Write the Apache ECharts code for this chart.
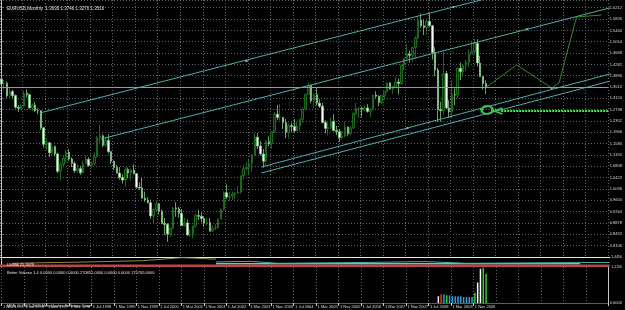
<!DOCTYPE html>
<html><head><meta charset="utf-8">
<script src="https://cdn.jsdelivr.net/npm/echarts@6/dist/echarts.min.js"></script>
<style>html,body{margin:0;padding:0;background:#000}#c{width:625px;height:310px}</style>
</head><body><div id="c"></div>
<script>
// ---- data (monthly EURUSD, Nov 1995 .. Mar 2010) ----
const MON = ['Jan','Feb','Mar','Apr','May','Jun','Jul','Aug','Sep','Oct','Nov','Dec'];
const slotCount = 216; // visible monthly slots incl. empty future area
const months = [];
for (let i = 0; i < slotCount; i++) { const k = 10 + i; months.push('1 ' + MON[k % 12] + ' ' + (1995 + Math.floor(k / 12))); }
const lastLabelIndex = 168; // "1 Nov 2009" is the last date label

const opens = [1.3780,1.3620,1.3640,1.3210,1.3360,1.3220,1.2820,1.2790,1.2860,1.3300,1.3250,1.2800,1.2900,1.2710,
1.2700,1.2120,1.1560,1.1610,1.1270,1.1480,1.1230,1.0640,1.0870,1.1090,1.1290,1.1060,
1.0910,1.0660,1.0730,1.0590,1.0910,1.1050,1.0840,1.0900,1.1140,1.1780,1.1850,1.1530,
1.1690,1.1310,1.0980,1.0770,1.0580,1.0430,1.0340,1.0700,1.0580,1.0680,1.0560,1.0100,
1.0070,0.9720,0.9660,0.9570,0.9120,0.9330,0.9530,0.9280,0.8870,0.8830,0.8500,0.8700,
0.9390,0.9360,0.9210,0.8790,0.8880,0.8470,0.8490,0.8770,0.9130,0.9110,0.9030,0.8880,
0.8900,0.8600,0.8700,0.8720,0.9010,0.9330,0.9910,0.9760,0.9800,0.9870,0.9890,0.9930,
1.0490,1.0730,1.0780,1.0900,1.1180,1.1800,1.1500,1.1230,1.0980,1.1650,1.1580,1.1990,
1.2590,1.2470,1.2480,1.2300,1.1960,1.2200,1.2170,1.2020,1.2180,1.2410,1.2760,1.3260,
1.3560,1.3040,1.3250,1.2960,1.2860,1.2300,1.2100,1.2130,1.2340,1.2030,1.1990,1.1790,
1.1840,1.2150,1.1920,1.2120,1.2620,1.2790,1.2790,1.2760,1.2800,1.2680,1.2750,1.3240,
1.3200,1.2990,1.3230,1.3350,1.3650,1.3450,1.3540,1.3680,1.3630,1.4260,1.4490,1.4630,
1.4590,1.4860,1.5180,1.5790,1.5600,1.5540,1.5750,1.5600,1.4680,1.4090,1.2740,1.2700,
1.3970,1.2800,1.2660,1.3250,1.3240,1.4150,1.4030,1.4250,1.4340,1.4640,1.4720,1.5000,
1.4330,1.3870,1.3630];
const highs = [1.3950,1.3750,1.3700,1.3480,1.3420,1.3260,1.2900,1.2930,1.3380,1.3430,1.3280,1.2960,1.3010,1.2790,
1.2720,1.2150,1.1750,1.1640,1.1580,1.1520,1.1270,1.0950,1.1150,1.1380,1.1400,1.1120,
1.0980,1.0890,1.0820,1.0990,1.1180,1.1120,1.0990,1.1280,1.1850,1.2220,1.1890,1.1800,
1.1900,1.1330,1.1010,1.0860,1.0790,1.0540,1.0790,1.0770,1.0730,1.0880,1.0580,1.0260,
1.0410,0.9950,0.9760,0.9680,0.9370,0.9610,0.9560,0.9340,0.9050,0.8880,0.8720,0.9430,
0.9590,0.9430,0.9360,0.9060,0.9000,0.8660,0.8800,0.9200,0.9330,0.9240,0.9100,0.9050,
0.9050,0.8790,0.8840,0.9040,0.9390,0.9960,1.0190,0.9940,0.9950,0.9930,1.0140,1.0500,
1.0870,1.0940,1.1080,1.1230,1.1930,1.1940,1.1670,1.1400,1.1700,1.1830,1.2000,1.2650,
1.2900,1.2930,1.2490,1.2420,1.2280,1.2300,1.2420,1.2330,1.2440,1.2820,1.3300,1.3670,
1.3580,1.3290,1.3480,1.3100,1.2970,1.2380,1.2300,1.2480,1.2590,1.2190,1.2080,1.2040,
1.2320,1.2160,1.2190,1.2640,1.2980,1.2820,1.2850,1.2910,1.2930,1.2790,1.3250,1.3370,
1.3230,1.3240,1.3380,1.3680,1.3680,1.3540,1.3850,1.3800,1.4280,1.4500,1.4970,1.4750,
1.4880,1.5240,1.5910,1.6020,1.5820,1.5820,1.6040,1.5630,1.4870,1.4160,1.3000,1.4720,
1.4060,1.3060,1.3740,1.3460,1.4180,1.4340,1.4300,1.4440,1.4800,1.5060,1.5140,1.5140,
1.4580,1.3880,1.3740];
const lows = [1.3540,1.3420,1.3150,1.3100,1.3120,1.2780,1.2660,1.2740,1.2830,1.3160,1.2780,1.2700,1.2660,1.2580,
1.2050,1.1450,1.1380,1.1120,1.1200,1.1140,1.0580,1.0320,1.0800,1.0950,1.1000,1.0780,
1.0580,1.0600,1.0520,1.0560,1.0880,1.0790,1.0770,1.0850,1.1100,1.1620,1.1460,1.1480,
1.1250,1.0880,1.0680,1.0560,1.0360,1.0220,1.0120,1.0410,1.0320,1.0530,1.0050,1.0010,
0.9710,0.9600,0.9540,0.9020,0.8850,0.9300,0.9170,0.8850,0.8460,0.8230,0.8400,0.8670,
0.9090,0.9060,0.8770,0.8760,0.8450,0.8400,0.8350,0.8710,0.8980,0.8900,0.8750,0.8790,
0.8590,0.8560,0.8630,0.8700,0.8990,0.9290,0.9690,0.9620,0.9660,0.9690,0.9870,0.9880,
1.0350,1.0680,1.0500,1.0620,1.1160,1.1400,1.1180,1.0760,1.0860,1.1490,1.1410,1.1950,
1.2380,1.2370,1.2080,1.1760,1.1760,1.1990,1.1960,1.2000,1.2000,1.2300,1.2740,1.3240,
1.2950,1.2790,1.2880,1.2800,1.2270,1.1930,1.1860,1.2070,1.2010,1.1870,1.1640,1.1710,
1.1800,1.1830,1.1880,1.2070,1.2550,1.2450,1.2480,1.2700,1.2640,1.2480,1.2740,1.3130,
1.2860,1.2930,1.3080,1.3330,1.3410,1.3270,1.3480,1.3260,1.3590,1.4070,1.4420,1.4340,
1.4370,1.4500,1.5150,1.5530,1.5280,1.5300,1.5560,1.4450,1.3880,1.2330,1.2330,1.2560,
1.2760,1.2460,1.2460,1.2890,1.3140,1.3750,1.3860,1.4050,1.4190,1.4630,1.4630,1.4220,
1.3860,1.3430,1.3270];
const closes = [1.3620,1.3640,1.3210,1.3360,1.3220,1.2820,1.2790,1.2860,1.3300,1.3250,1.2800,1.2900,1.2710,1.2700,
1.2120,1.1560,1.1610,1.1270,1.1480,1.1230,1.0640,1.0870,1.1090,1.1290,1.1060,1.0910,
1.0660,1.0730,1.0590,1.0910,1.1050,1.0840,1.0900,1.1140,1.1780,1.1850,1.1530,1.1690,
1.1310,1.0980,1.0770,1.0580,1.0430,1.0340,1.0700,1.0580,1.0680,1.0560,1.0100,1.0070,
0.9720,0.9660,0.9570,0.9120,0.9330,0.9530,0.9280,0.8870,0.8830,0.8500,0.8700,0.9390,
0.9360,0.9210,0.8790,0.8880,0.8470,0.8490,0.8770,0.9130,0.9110,0.9030,0.8880,0.8900,
0.8600,0.8700,0.8720,0.9010,0.9330,0.9910,0.9760,0.9800,0.9870,0.9890,0.9930,1.0490,
1.0730,1.0780,1.0900,1.1180,1.1800,1.1500,1.1230,1.0980,1.1650,1.1580,1.1990,1.2590,
1.2470,1.2480,1.2300,1.1960,1.2200,1.2170,1.2020,1.2180,1.2410,1.2760,1.3260,1.3560,
1.3040,1.3250,1.2960,1.2860,1.2300,1.2100,1.2130,1.2340,1.2030,1.1990,1.1790,1.1840,
1.2150,1.1920,1.2120,1.2620,1.2790,1.2790,1.2760,1.2800,1.2680,1.2750,1.3240,1.3200,
1.2990,1.3230,1.3350,1.3650,1.3450,1.3540,1.3680,1.3630,1.4260,1.4490,1.4630,1.4590,
1.4860,1.5180,1.5790,1.5600,1.5540,1.5750,1.5600,1.4680,1.4090,1.2740,1.2700,1.3970,
1.2800,1.2660,1.3250,1.3240,1.4150,1.4030,1.4250,1.4340,1.4640,1.4720,1.5000,1.4330,
1.3870,1.3630,1.3510];

// Better Volume histogram (Oct 2008 .. Mar 2010)
const volStart = 155;
const volValues = [55000,70000,70000,62000,62000,55000,55000,55000,55000,48000,48000,48000,48000,80000,165000,275000,285000,235000];
const volColors = ['#e8e8e8','#ff3030','#3a9ad9','#30d030','#3a9ad9','#3a9ad9','#3a9ad9','#3a9ad9','#3a9ad9','#3a9ad9','#3a9ad9','#3a9ad9','#3a9ad9','#30d030','#ffffff','#ffffff','#30d030','#30d030'];

// small indicator window lines [monthIndex, value]
const indOlive = [[4, 1.300], [12, 1.310], [30, 1.330], [50, 1.360], [64, 1.430], [68, 1.420], [76, 1.395]];
const indCyan = [[76, 1.330], [88, 1.345], [98, 1.300], [106, 1.305], [130, 1.320], [150, 1.340], [165, 1.300], [200, 1.315], [215.5, 1.320]];
const indWhite = [[76, 1.290], [205, 1.290]];
const indBandTop = 1.275;

// trend lines: anchor pairs [monthIndex, price]
const trendA = [[13.6, 1.2626], [160.5, 1.6237]];
const trendB = [[35.4, 1.1740], [186.6, 1.5478]];
const trendC1 = [[92.3, 1.0786], [144.2, 1.2115]];
const trendC2 = [[92.3, 1.0582], [204.2, 1.3410]];
const trendDots = [[87.0, 1.4398], [160.5, 1.6237], [186.6, 1.5478], [144.2, 1.2115], [195.4, 1.3478]];
// hand-drawn forecast path
const forecastPath = [[171.7, 1.3478], [183.0, 1.4262], [195.4, 1.3478], [198.0, 1.3650], [204.2, 1.5897], [213.1, 1.5965]];
const circleMark = [[172.5, 1.2728]];
const arrowMark = [[176.5, 1.2694]];
const dottedLevel = [[177.5, 1.2694], [215.5, 1.2694]];

const priceMin = 0.7720, priceStep = 0.0386, priceMax = 1.6476;
const title = 'EURUSD,Monthly  1.3630 1.3740 1.3270 1.3510';
const volTitle = 'Better Volume 1.4 0.0000 0.0000 0.0000 270852.0000 0.0000 0.0000 175765.0000';
const indTitle = 'LWMA 25.3478';
const copyright = 'MFA, \u00a9 2001-2009 MetaQuotes Software Corp.';

// ---- chart ----
const GREEN = '#1f7f22';
const GRIDC = '#5a626c';
function extend(a, xEnd) {
  const [p, q] = a; const s = (q[1] - p[1]) / (q[0] - p[0]);
  return [p, [xEnd, p[1] + s * (xEnd - p[0])]];
}
const candleData = opens.map((o, i) => [o, closes[i], lows[i], highs[i]]);
const volData = months.map((m, i) => {
  const k = i - volStart;
  if (k >= 0 && k < volValues.length) return { value: volValues[k], itemStyle: { color: volColors[k] } };
  return '-';
});
const font = 'Liberation Sans';
const every8 = (idx) => idx % 8 === 0;
const dateLabelShown = (idx) => idx % 8 === 0 && idx <= lastLabelIndex;
const chart = echarts.init(document.getElementById('c'), null, { renderer: 'canvas' });
const lastClose = closes[closes.length - 1];
const small = (t, left, top, size) => ({ text: t, left, top, textStyle: { color: '#e0e0e0', fontSize: size, fontWeight: 'normal', fontFamily: font } });
chart.setOption({
  backgroundColor: '#000',
  animation: false,
  textStyle: { fontFamily: font },
  grid: [
    { left: 0, right: 13, top: 0, height: 257 },
    { left: 0, right: 13, top: 257, height: 10 },
    { left: 0, right: 13, top: 267, height: 36 }
  ],
  title: [
    small(title, 2, 1, 4.5),
    small(indTitle, 2, 258, 4),
    small(volTitle, 2, 266, 4),
    small(copyright, 2, 298.5, 4)
  ],
  xAxis: [
    { type: 'category', gridIndex: 0, data: months, boundaryGap: true,
      axisLine: { show: false }, axisTick: { show: false }, axisLabel: { show: false },
      splitLine: { show: true, interval: every8, lineStyle: { color: GRIDC, type: [1, 2], width: 1 } } },
    { type: 'value', gridIndex: 0, min: -0.5, max: slotCount - 0.5, show: false },
    { type: 'value', gridIndex: 1, min: -0.5, max: slotCount - 0.5, position: 'top',
      axisLine: { show: true, onZero: false, lineStyle: { color: '#e8e8e8', width: 1 } },
      axisTick: { show: false }, axisLabel: { show: false }, splitLine: { show: false } },
    { type: 'category', gridIndex: 2, data: months, boundaryGap: true,
      axisLine: { show: true, lineStyle: { color: '#a04040', width: 1 } },
      axisTick: { show: true, interval: dateLabelShown, length: 3, lineStyle: { color: '#cccccc' } },
      axisLabel: { show: true, interval: dateLabelShown, color: '#dddddd', fontSize: 4, align: 'left', margin: 2, fontFamily: font },
      splitLine: { show: true, interval: every8, lineStyle: { color: GRIDC, type: [1, 2], width: 1 } } }
  ],
  yAxis: [
    { type: 'value', gridIndex: 0, position: 'right', min: priceMin, max: priceMax, interval: priceStep,
      axisLine: { show: true, lineStyle: { color: '#c8c8c8' } },
      axisTick: { show: true, length: 1, lineStyle: { color: '#c8c8c8' } },
      axisLabel: { color: '#dddddd', fontSize: 4, margin: 1.5, showMinLabel: false, showMaxLabel: false, formatter: v => v.toFixed(4) },
      splitLine: { show: true, lineStyle: { color: GRIDC, type: [1, 2], width: 1 } } },
    { type: 'value', gridIndex: 1, position: 'right', min: 1.2150, max: 1.4450,
      axisLine: { show: true, lineStyle: { color: '#c8c8c8' } }, axisTick: { show: false },
      axisLabel: { show: true, color: '#dddddd', fontSize: 3.5, margin: 1.5, customValues: [1.2150, 1.4450], formatter: v => v.toFixed(4) },
      splitLine: { show: false } },
    { type: 'value', gridIndex: 2, position: 'right', min: 0, max: 290000, interval: 290000,
      axisLine: { show: true, lineStyle: { color: '#c8c8c8' } }, axisTick: { show: false },
      axisLabel: { color: '#dddddd', fontSize: 4, margin: 1.5, showMaxLabel: false, formatter: v => v.toFixed(4) },
      splitLine: { show: false } }
  ],
  series: [
    { type: 'candlestick', xAxisIndex: 0, yAxisIndex: 0, data: candleData, barWidth: 2,
      itemStyle: { color: '#082808', color0: '#ffffff', borderColor: GREEN, borderColor0: '#7fc87f', borderWidth: 0.8 },
      markLine: { silent: true, symbol: 'none', label: { show: false },
        lineStyle: { color: '#9a9a9a', type: 'solid', width: 1 }, data: [{ yAxis: lastClose }] } },
    ...[trendA, trendB, trendC1, trendC2].map(t => ({
      type: 'line', xAxisIndex: 1, yAxisIndex: 0, data: extend(t, slotCount + 40), symbol: 'none', clip: true,
      lineStyle: { color: '#4fadad', width: 1 } })),
    { type: 'scatter', xAxisIndex: 1, yAxisIndex: 0, data: trendDots, symbol: 'rect', symbolSize: 2, itemStyle: { color: '#ddeeee' } },
    { type: 'line', xAxisIndex: 1, yAxisIndex: 0, data: forecastPath, symbol: 'none', lineStyle: { color: '#2f8a2f', width: 1 } },
    { type: 'line', xAxisIndex: 1, yAxisIndex: 0, data: dottedLevel, symbol: 'none', lineStyle: { color: '#44ee44', width: 2, type: [2, 1] } },
    { type: 'scatter', xAxisIndex: 1, yAxisIndex: 0, data: circleMark, symbol: 'circle', symbolSize: [11, 8],
      itemStyle: { color: 'rgba(0,0,0,0)', borderColor: '#3cf03c', borderWidth: 2.5 } },
    { type: 'scatter', xAxisIndex: 1, yAxisIndex: 0, data: arrowMark, symbol: 'path://M10,0 L0,5 L10,10', symbolSize: [8, 6],
      itemStyle: { color: 'rgba(0,0,0,0)', borderColor: '#3cf03c', borderWidth: 2 } },
    // indicator sub-window
    { type: 'line', xAxisIndex: 2, yAxisIndex: 1, data: indOlive, symbol: 'none', lineStyle: { color: '#8a8a48', width: 1 } },
    { type: 'line', xAxisIndex: 2, yAxisIndex: 1, data: indWhite, symbol: 'none', lineStyle: { color: '#e0e0e0', width: 1 } },
    { type: 'line', xAxisIndex: 2, yAxisIndex: 1, data: indCyan, symbol: 'none', lineStyle: { color: '#3fb0b0', width: 1 },
      markArea: { silent: true, itemStyle: { color: '#b84848' }, data: [[{ yAxis: 1.2150 }, { yAxis: indBandTop }]] } },
    { type: 'bar', xAxisIndex: 3, yAxisIndex: 2, data: volData, barWidth: 1.5 }
  ]
});
</script></body></html>
